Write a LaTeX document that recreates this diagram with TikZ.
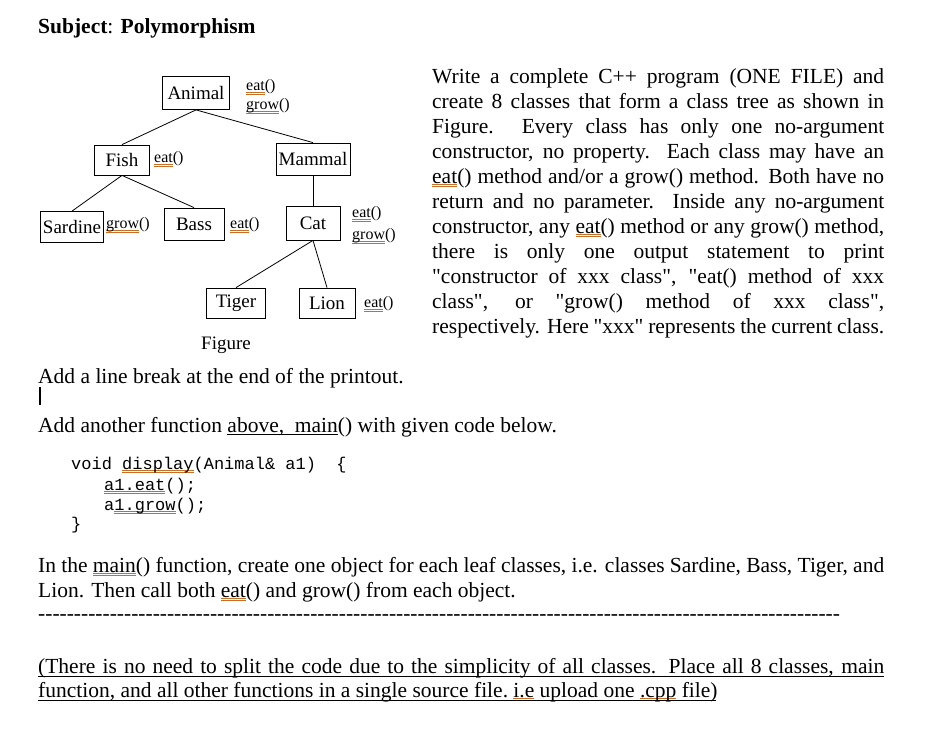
\documentclass[tikz,border=0pt]{standalone}
\usepackage{fontspec}
\setmainfont{Liberation Serif}
\setmonofont{Liberation Mono}
\definecolor{sqc}{RGB}{200,110,40}
\newcommand\sq[1]{\setbox0\hbox{#1}\rlap{\color{sqc}\rule[-2pt]{\wd0}{0.6pt}}\rlap{\color{sqc}\rule[-3.6pt]{\wd0}{0.6pt}}\box0}
\newcommand\ul[1]{\setbox0\hbox{#1}\rlap{\rule[-2.5pt]{\wd0}{0.8pt}}\box0}
\newcommand\jl[1]{\makebox[452pt][s]{#1}}
\newcommand\jw[1]{\makebox[846pt][s]{#1}}
\newcommand\q{\textquotedbl}
\begin{document}
\begin{tikzpicture}[x=1pt,y=-1pt,
  cls/.style={draw,line width=0.8pt,inner sep=3pt,font=\fontsize{19}{20}\selectfont},
  lbl/.style={anchor=west,inner sep=0pt,font=\fontsize{16}{16}\selectfont},
  body/.style={anchor=base west,inner sep=0pt,font=\fontsize{21.5}{25}\selectfont},
  code/.style={anchor=base west,inner sep=0pt,font=\ttfamily\fontsize{17}{17}\selectfont},
  edge/.style={line width=0.8pt}]
\useasboundingbox (0,0) rectangle (938,731);
\node[body] (subj) at (38,33) {\textbf{Subject}: \textbf{Polymorphism}};
% tree
\node[cls,minimum width=67,minimum height=33,inner sep=1pt] (animal) at (196,93) {Animal};
\node[cls,minimum width=55,minimum height=30] (fish) at (122,160) {Fish};
\node[cls,minimum width=74,minimum height=32,inner sep=1pt] (mammal) at (313,159) {Mammal};
\node[cls,minimum width=63,minimum height=31,inner sep=1pt] (sardine) at (72,227) {Sardine};
\node[cls,minimum width=60,minimum height=32] (bass) at (194,224) {Bass};
\node[cls,minimum width=54,minimum height=34] (cat) at (313,223) {Cat};
\node[cls,minimum width=59,minimum height=30] (tiger) at (236,303) {Tiger};
\node[cls,minimum width=56,minimum height=30] (lion) at (327,303) {Lion};
\node[lbl] (a1) at (246,87) {\sq{eat}()};
\node[lbl] (a2) at (246,106) {\sq{grow}()};
\node[lbl] (f1) at (154,159) {\sq{eat}()};
\node[lbl] (s1) at (106,225) {\sq{grow}()};
\node[lbl] (b1) at (230,225) {\sq{eat}()};
\node[lbl] (c1) at (352,214) {\sq{eat}()};
\node[lbl] (c2) at (352,236) {\sq{grow}()};
\node[lbl] (l1) at (364,304) {\sq{eat}()};
\node[body,font=\fontsize{19}{20}\selectfont] (fig) at (201,349) {Figure};
\draw[edge] (animal.south) -- (fish.north);
\draw[edge] (animal.south) -- (mammal.north);
\draw[edge] (fish.south) -- (sardine.north);
\draw[edge] (fish.south) -- (bass.north);
\draw[edge] (mammal.south) -- (cat.north);
\draw[edge] (cat.south) -- (tiger.north);
\draw[edge] (cat.south) -- (lion.north);
% right paragraph
\node[body] (p1) at (432,83) {\jl{Write a complete C++ program (ONE FILE) and}};
\node[body] (p2) at (432,108) {\jl{create 8 classes that form a class tree as shown in}};
\node[body] (p3) at (432,133) {\jl{Figure. Every class has only one no-argument}};
\node[body] (p4) at (432,158) {\jl{constructor, no property. Each class may have an}};
\node[body] (p5) at (432,183) {\jl{\sq{eat}() method and/or a grow() method. Both have no}};
\node[body] (p6) at (432,208) {\jl{return and no parameter. Inside any no-argument}};
\node[body] (p7) at (432,233) {\jl{constructor, any \sq{eat}() method or any grow() method,}};
\node[body] (p8) at (432,258) {\jl{there is only one output statement to print}};
\node[body] (p9) at (432,283) {\jl{\q constructor of xxx class\q, \q eat() method of xxx}};
\node[body] (p10) at (432,308) {\jl{class\q, or \q grow() method of xxx class\q,}};
\node[body] (p11) at (432,333) {\jl{respectively. Here \q xxx\q\ represents the current class.}};
\node[body] (lb) at (38,383) {Add a line break at the end of the printout.};
\coordinate (cur1) at (40,387);
\coordinate (cur2) at (40,405);
\draw[line width=1.2pt] (cur1) -- (cur2);
\node[body] (af) at (38,432) {Add another function \ul{above,\ \ main}() with given code below.};
\node[code] (cd1) at (71,469) {void \sq{display}(Animal\& a1) \ \{};
\node[code] (cd2) at (104,490) {\sq{a1.eat}();};
\node[code] (cd3) at (104,510) {a\sq{1.grow}();};
\node[code] (cd4) at (71,529) {\}};
\node[body] (in1) at (38,572) {\jw{In the \sq{main}() function, create one object for each leaf classes, i.e. classes Sardine, Bass, Tiger, and}};
\node[body] (in2) at (38,597) {Lion. Then call both \sq{eat}() and grow() from each object.};
\node[body] (dash) at (38,620) {\makebox[808pt][l]{\leaders\hbox{-}\hfill}};
\node[body] (l1a) at (38,673) {\jw{(There is no need to split the code due to the simplicity of all classes. Place all 8 classes, main}};
\node[body] (l2a) at (38,697) {function, and all other functions in a single source file.\ \sq{i.e}\ upload one \sq{.cpp}\ file)};
\coordinate (u1a) at (38,676); \coordinate (u1b) at (884,676);
\coordinate (u2a) at (38,700); \coordinate (u2b) at (716,700);
\draw[line width=0.8pt] (u1a) -- (u1b);
\draw[line width=0.8pt] (u2a) -- (u2b);
\end{tikzpicture}
\end{document}
